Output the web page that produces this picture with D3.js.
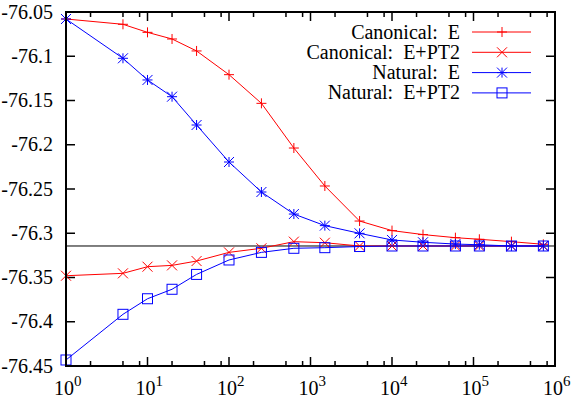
<!DOCTYPE html>
<html><head><meta charset="utf-8">
<script src="https://cdn.jsdelivr.net/npm/d3@7"></script>
</head><body style="margin:0">
<script>
const xValues = [1,5,10,20,40,100,250,625,1500,4000,10000,24000,60000,118000,292000,720000];
const canonicalE =    [-76.0579,-76.0639,-76.0730,-76.0805,-76.0940,-76.1208,-76.1532,-76.2037,-76.2466,-76.2862,-76.2970,-76.3015,-76.3050,-76.3068,-76.3095,-76.3125];
const canonicalPT2 =  [-76.3480,-76.3453,-76.3378,-76.3363,-76.3314,-76.3216,-76.3170,-76.3095,-76.3107,-76.3144,-76.3144,-76.3144,-76.3144,-76.3144,-76.3144,-76.3144];
const naturalE =      [-76.0579,-76.1023,-76.1268,-76.1457,-76.1777,-76.2195,-76.2534,-76.2783,-76.2914,-76.3001,-76.3076,-76.3102,-76.3122,-76.3130,-76.3144,-76.3144];
const naturalPT2 =    [-76.4432,-76.3916,-76.3740,-76.3633,-76.3465,-76.3302,-76.3216,-76.3170,-76.3163,-76.3150,-76.3144,-76.3144,-76.3144,-76.3144,-76.3144,-76.3144];
const referenceE = -76.3144;
const yTicks = [-76.05,-76.1,-76.15,-76.2,-76.25,-76.3,-76.35,-76.4,-76.45];
const yTickLabels = ["-76.05","-76.1","-76.15","-76.2","-76.25","-76.3","-76.35","-76.4","-76.45"];
const xExponents = [0,1,2,3,4,5,6];
const seriesNames = ["Canonical:\u00a0 E","Canonical:\u00a0 E+PT2","Natural:\u00a0 E","Natural:\u00a0 E+PT2"];

const W=571,H=402, L=66, R=555, T=12, B=366;
const svg=d3.select("body").append("svg").attr("width",W).attr("height",H);
const x=d3.scaleLog().domain([1,1e6]).range([L,R]);
const y=d3.scaleLinear().domain([-76.45,-76.05]).range([B,T]);

function txt(sel,size){return sel.append("text").attr("font-size",size).attr("font-family","Liberation Serif");}

const g=svg.append("g");
yTicks.forEach((v,i)=>{
  const yy=y(v);
  g.append("line").attr("x1",L).attr("x2",L+9).attr("y1",yy).attr("y2",yy).attr("stroke","#000").attr("stroke-width",1.5);
  g.append("line").attr("x1",R-9).attr("x2",R).attr("y1",yy).attr("y2",yy).attr("stroke","#000").attr("stroke-width",1.5);
  txt(g,20).attr("x",53).attr("y",yy+6.5).attr("text-anchor","end").text(yTickLabels[i]);
});
xExponents.forEach(e=>{
  const xx=x(Math.pow(10,e));
  g.append("line").attr("x1",xx).attr("x2",xx).attr("y1",B).attr("y2",B-9).attr("stroke","#000").attr("stroke-width",1.5);
  g.append("line").attr("x1",xx).attr("x2",xx).attr("y1",T).attr("y2",T+9).attr("stroke","#000").attr("stroke-width",1.5);
  const t=txt(g,20).attr("x",xx-12).attr("y",395);
  t.append("tspan").text("10");
  t.append("tspan").attr("dy",-9).attr("font-size",15).text(String(e));
  if(e<6){[2,5,8].forEach(m=>{
    const xm=x(m*Math.pow(10,e));
    g.append("line").attr("x1",xm).attr("x2",xm).attr("y1",B).attr("y2",B-5).attr("stroke","#000").attr("stroke-width",1.5);
    g.append("line").attr("x1",xm).attr("x2",xm).attr("y1",T).attr("y2",T+5).attr("stroke","#000").attr("stroke-width",1.5);
  });}
});

svg.append("line").attr("x1",L).attr("x2",R).attr("y1",y(referenceE)).attr("y2",y(referenceE)).attr("stroke","#000").attr("stroke-width",1);

function marker(sel,type,cx,cy,color){
  const s=5;
  if(type==="plus"||type==="star"){
    sel.append("path").attr("d",`M${cx-s},${cy}H${cx+s}M${cx},${cy-s}V${cy+s}`).attr("stroke",color).attr("stroke-width",1).attr("fill","none");
  }
  if(type==="cross"||type==="star"){
    sel.append("path").attr("d",`M${cx-s},${cy-s}L${cx+s},${cy+s}M${cx-s},${cy+s}L${cx+s},${cy-s}`).attr("stroke",color).attr("stroke-width",1).attr("fill","none");
  }
  if(type==="square"){
    sel.append("rect").attr("x",cx-5).attr("y",cy-5).attr("width",10).attr("height",10).attr("stroke",color).attr("stroke-width",1).attr("fill","none");
  }
}

const series=[
  {vals:canonicalE,color:"#ff0000",m:"plus"},
  {vals:canonicalPT2,color:"#ff0000",m:"cross"},
  {vals:naturalE,color:"#0000ff",m:"star"},
  {vals:naturalPT2,color:"#0000ff",m:"square"}
];
const line=d3.line().x(d=>x(d[0])).y(d=>y(d[1]));
series.forEach((s,i)=>{
  const pts=xValues.map((xv,j)=>[xv,s.vals[j]]);
  const gg=svg.append("g");
  gg.append("path").attr("d",line(pts)).attr("fill","none").attr("stroke",s.color).attr("stroke-width",1);
  pts.forEach(p=>marker(gg,s.m,x(p[0]),y(p[1]),s.color));
  const ly=32+i*20.3;
  txt(svg,20).attr("x",460).attr("y",ly+6.5).attr("text-anchor","end").text(seriesNames[i]);
  svg.append("line").attr("x1",472).attr("x2",531).attr("y1",ly).attr("y2",ly).attr("stroke",s.color).attr("stroke-width",1);
  marker(svg,s.m,502,ly,s.color);
});

svg.append("rect").attr("x",L).attr("y",T).attr("width",R-L).attr("height",B-T).attr("fill","none").attr("stroke","#000").attr("stroke-width",2);
</script>
</body></html>
